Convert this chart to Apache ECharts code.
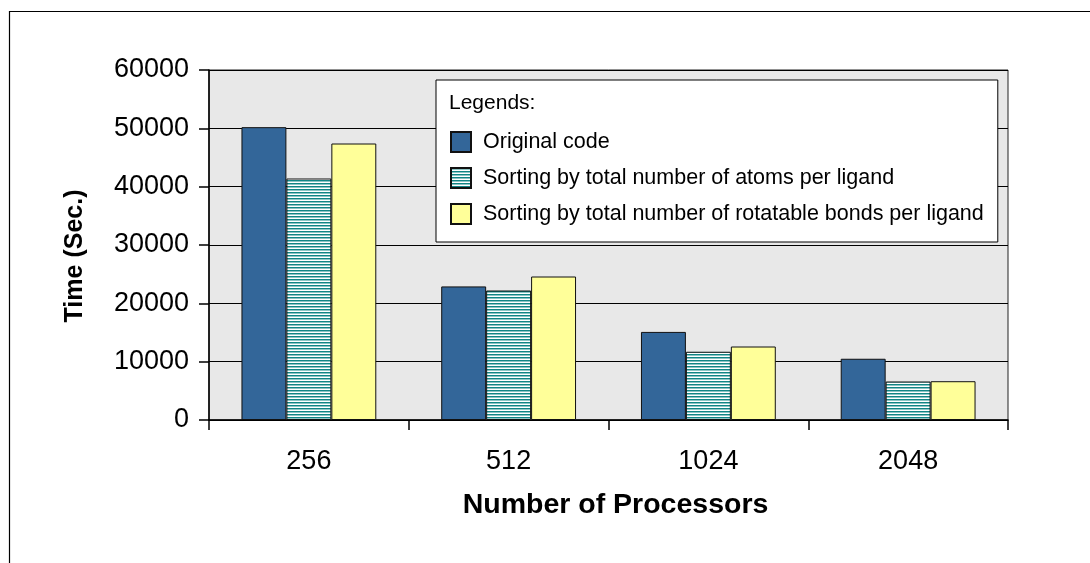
<!DOCTYPE html>
<html>
<head>
<meta charset="utf-8">
<script src="https://cdn.jsdelivr.net/npm/echarts@6/dist/echarts.min.js"></script>
<style>
  html, body { margin: 0; padding: 0; background: #ffffff; }
  #chart { width: 1090px; height: 563px; }
</style>
</head>
<body>
<div id="chart"></div>
<script>
// Run times for the docking code on different processor counts
const processors = ['256', '512', '1024', '2048'];
const originalCode = [50200, 22900, 15100, 10500];
const sortByAtoms = [41400, 22200, 11700, 6600];
const sortByRotatableBonds = [47400, 24600, 12600, 6650];
const seriesNames = [
  'Original code',
  'Sorting by total number of atoms per ligand',
  'Sorting by total number of rotatable bonds per ligand'
];

// Horizontal line hatch fill for the second series
function stripePattern() {
  const c = document.createElement('canvas');
  c.width = 4; c.height = 3;
  const ctx = c.getContext('2d');
  ctx.fillStyle = '#ffffff';
  ctx.fillRect(0, 0, 4, 3);
  ctx.fillStyle = '#118585';
  ctx.fillRect(0, 0, 4, 1);
  ctx.fillStyle = '#8cc4c4';
  ctx.fillRect(0, 1, 4, 1);
  return c;
}

const FONT = '"Liberation Sans", Arial, sans-serif';
const chart = echarts.init(document.getElementById('chart'), null, { renderer: 'canvas' });

const barBase = {
  type: 'bar',
  barGap: '0%',
  barCategoryGap: '32.5%',
  animation: false
};

chart.setOption({
  animation: false,
  backgroundColor: '#ffffff',
  textStyle: { fontFamily: FONT, color: '#000' },
  graphic: [{
    type: 'rect',
    left: 7, top: 9,
    shape: { width: 1200, height: 700 },
    style: { fill: 'none', stroke: '#000', lineWidth: 1.2 },
    silent: true, z: -1
  }],
  title: {
    text: 'Legends:',
    left: 444, top: 88,
    textStyle: { fontFamily: FONT, fontSize: 21, fontWeight: 'normal', color: '#000' },
    z: 10
  },
  legend: {
    orient: 'vertical',
    left: 436, top: 80,
    padding: [51, 14, 17, 14],
    icon: 'rect',
    itemWidth: 20, itemHeight: 20,
    itemGap: 14,
    backgroundColor: '#ffffff',
    borderColor: '#000',
    borderWidth: 1,
    textStyle: { fontFamily: FONT, fontSize: 21.5, color: '#000', padding: [0, 0, 0, 7] },
    data: seriesNames,
    z: 5
  },
  grid: {
    left: 209, right: 82, top: 70, bottom: 143,
    show: true,
    backgroundColor: '#e8e8e8',
    borderColor: '#222',
    borderWidth: 1
  },
  xAxis: {
    type: 'category',
    data: processors,
    name: 'Number of Processors',
    nameLocation: 'middle',
    nameGap: 71,
    nameTextStyle: { fontFamily: FONT, fontSize: 28.5, fontWeight: 'bold', color: '#000', padding: [0, 0, 0, 14] },
    axisLine: { show: true, lineStyle: { color: '#000', width: 1.5 } },
    axisTick: { show: true, alignWithLabel: false, length: 10, lineStyle: { color: '#000', width: 1.5 } },
    axisLabel: { fontFamily: FONT, fontSize: 27, color: '#000', margin: 28 },
    splitLine: { show: false }
  },
  yAxis: {
    type: 'value',
    min: 0, max: 60000, interval: 10000,
    name: 'Time (Sec.)',
    nameLocation: 'middle',
    nameGap: 121,
    nameTextStyle: { fontFamily: FONT, fontSize: 25, fontWeight: 'bold', color: '#000', padding: [0, 22, 0, 0] },
    axisLine: { show: true, lineStyle: { color: '#000', width: 1.5 } },
    axisTick: { show: true, length: 10, lineStyle: { color: '#000', width: 1.5 } },
    axisLabel: { fontFamily: FONT, fontSize: 27, color: '#000', margin: 20, formatter: v => String(v) },
    splitLine: { show: true, lineStyle: { color: '#000', width: 1.2 } }
  },
  series: [
    Object.assign({}, barBase, {
      name: seriesNames[0],
      data: originalCode,
      itemStyle: { color: '#336699', borderColor: '#111', borderWidth: 1 }
    }),
    Object.assign({}, barBase, {
      name: seriesNames[1],
      data: sortByAtoms,
      itemStyle: { color: { image: stripePattern(), repeat: 'repeat' }, borderColor: '#111', borderWidth: 1 }
    }),
    Object.assign({}, barBase, {
      name: seriesNames[2],
      data: sortByRotatableBonds,
      itemStyle: { color: '#ffff99', borderColor: '#111', borderWidth: 1 }
    })
  ]
});
</script>
</body>
</html>
